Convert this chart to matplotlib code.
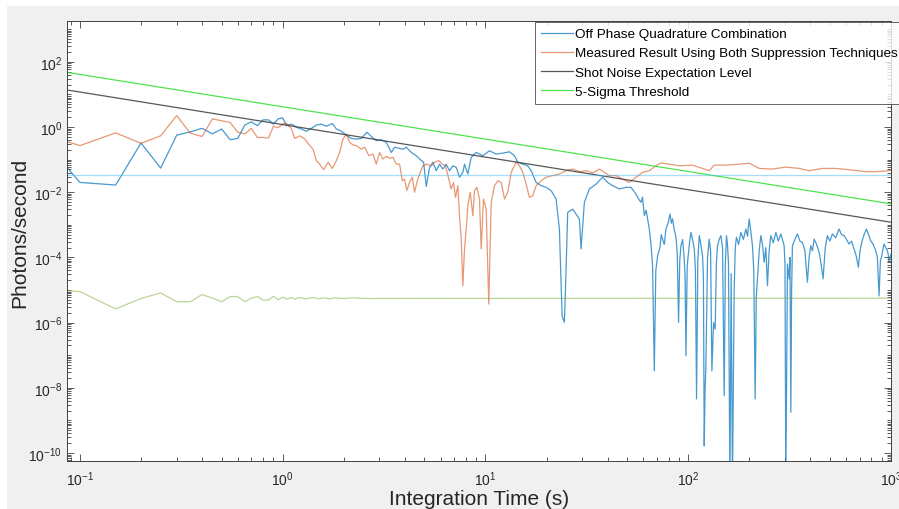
import numpy as np
import matplotlib
matplotlib.use("Agg")
import matplotlib.pyplot as plt
from matplotlib.patches import Rectangle
from matplotlib.ticker import FixedLocator, LogLocator, NullFormatter

plt.rcParams['font.family'] = ['Liberation Sans', 'DejaVu Sans']

# integration time (s) and log10(photons/s)
t_off = [0.0863, 0.1, 0.15, 0.2, 0.25, 0.3, 0.35, 0.4, 0.45, 0.5, 0.55, 0.6, 0.65, 0.7,
         0.75, 0.8, 0.85, 0.9, 0.95, 1.0, 1.043, 1.104, 1.168, 1.236, 1.308, 1.385,
         1.466, 1.551, 1.642, 1.757, 1.839, 1.946, 2.06, 2.18, 2.307, 2.442, 2.602,
         2.735, 2.894, 3.063, 3.242, 3.432, 3.562, 3.741, 3.914, 4.068, 4.305, 4.556,
         4.824, 4.951, 5.105, 5.299, 5.501, 5.716, 5.934, 6.16, 6.402, 6.647, 6.901,
         7.173, 7.446, 7.731, 7.882, 8.182, 8.504, 9.0, 9.698, 10.46, 11.29, 12.17,
         13.13, 13.9, 14.43, 15.27, 16.16, 16.8, 17.78, 18.82, 19.91, 21.07, 22.3,
         23.15, 23.87, 24.5, 24.98, 25.43, 26.92, 27.98, 29.05, 29.61, 30.74, 32.53,
         35.11, 37.83, 40.04, 42.38, 45.72, 49.33, 52.2]
log_off = [-1.24, -1.70, -1.78, -0.49, -1.26, -0.25, -0.15, -0.04, -0.21, -0.06, -0.39,
           -0.35, 0.06, 0.16, 0.04, 0.22, 0.22, 0.09, 0.25, 0.28, 0.04, 0.09, -0.01,
           -0.06, -0.13, -0.04, 0.06, 0.09, 0.02, 0.11, -0.06, -0.13, -0.25, -0.35,
           -0.37, -0.35, -0.16, -0.29, -0.42, -0.39, -0.47, -0.78, -0.62, -0.65, -0.68,
           -0.62, -0.78, -0.88, -1.03, -1.08, -1.82, -1.24, -1.08, -1.34, -1.14, -1.29,
           -1.14, -1.34, -1.19, -1.24, -1.54, -1.39, -1.14, -1.44, -0.93, -0.78, -0.88,
           -0.73, -0.83, -0.80, -0.76, -0.88, -1.08, -1.14, -1.19, -1.34, -1.70, -1.80,
           -1.85, -1.95, -2.21, -3.13, -5.79, -5.99, -4.36, -2.62, -2.52, -2.67, -2.82,
           -3.74, -2.31, -1.90, -1.75, -1.54, -1.70, -1.80, -1.90, -1.85, -1.85]

# noisy tail of the off-phase trace, (time s, log10 photons/s)
off_tail = [
    (55.25, -2.06), (56.8, -2.20), (58.48, -2.31), (59.5, -2.15), (60.71, -2.72),
    (62.0, -2.55), (63.03, -2.82), (64.26, -3.13), (65.5, -3.60), (66.71, -4.26),
    (68.01, -7.48), (69.2, -4.40), (70.61, -3.95), (72.5, -3.70), (73.6, -3.30),
    (74.7, -3.44), (76.2, -3.60), (77.64, -3.13), (79.5, -2.95), (81.26, -2.67),
    (82.5, -2.95), (83.7, -2.82), (85.3, -3.15), (86.98, -3.38), (88.3, -3.90),
    (89.58, -5.99), (90.8, -4.10), (92.05, -3.64), (93.8, -3.45), (95.56, -4.05),
    (96.5, -4.60), (97.43, -7.02), (98.8, -4.30), (100.3, -3.84), (101.7, -3.50),
    (103.1, -3.23), (105.0, -3.45), (107.1, -3.74), (108.5, -4.40), (109.9, -8.34),
    (111.5, -4.10), (113.3, -3.33), (115.4, -3.60), (117.6, -3.95), (118.8, -4.60),
    (119.9, -9.78), (121.0, -8.10), (122.2, -7.32), (124.5, -4.00), (126.9, -3.44),
    (128.9, -3.80), (130.8, -7.48), (133.3, -6.00), (135.8, -6.20), (137.6, -4.20),
    (139.4, -3.64), (142.1, -3.45), (144.9, -3.33), (147.6, -3.70), (150.4, -8.24),
    (152.4, -4.20), (154.4, -3.33), (156.1, -3.60), (157.9, -4.15), (160.5, -11.0),
    (162.8, -4.50), (165.2, -11.0), (168.5, -4.97), (170.6, -3.70), (172.9, -3.38),
    (177.3, -3.60), (181.8, -3.23), (187.0, -3.45), (192.4, -3.13), (196.0, -3.35),
    (199.8, -2.82), (203.5, -3.20), (207.4, -3.64), (210.5, -4.40), (213.8, -8.34),
    (216.6, -5.20), (219.5, -4.66), (223.8, -3.80), (228.1, -3.33), (232.4, -3.60),
    (236.8, -4.15), (241.3, -3.70), (245.9, -4.87), (250.6, -3.80), (255.5, -3.33),
    (262.8, -3.55), (270.4, -3.23), (278.2, -3.50), (286.2, -3.28), (291.6, -3.45),
    (297.1, -3.64), (300.0, -4.20), (302.9, -11.0), (308.6, -4.20), (314.5, -4.66),
    (317.5, -4.00), (320.6, -8.75), (323.5, -5.00), (326.5, -3.64), (335.8, -3.45),
    (345.5, -3.28), (355.4, -3.50), (365.6, -3.54), (376.2, -3.80), (387.0, -4.76),
    (394.5, -4.00), (402.2, -3.64), (409.8, -3.80), (417.6, -3.44), (429.6, -3.60),
    (441.9, -3.84), (452.0, -4.20), (462.4, -4.66), (474.0, -3.70), (485.6, -3.33),
    (499.6, -3.50), (513.9, -3.28), (533.8, -3.40), (554.4, -3.13), (570.4, -3.30),
    (586.8, -3.33), (603.7, -3.45), (621.1, -3.59), (639.0, -3.50), (657.3, -3.74),
    (673.5, -3.95), (690.2, -4.30), (703.6, -3.80), (717.4, -3.54), (736.4, -3.30),
    (755.8, -3.13), (775.0, -3.30), (794.3, -3.49), (817.0, -3.60), (840.6, -3.79),
    (856.7, -4.00), (873.2, -5.18), (886.7, -4.10), (900.4, -3.95), (912.2, -3.75),
    (924.1, -3.59), (941.6, -3.70), (959.3, -3.79), (968.2, -3.90), (977.3, -4.10),
    (1000, -3.90)]

t_meas = [0.0863, 0.1, 0.15, 0.2, 0.25, 0.3, 0.35, 0.4, 0.45, 0.5, 0.55, 0.6, 0.65, 0.7,
          0.75, 0.8, 0.85, 0.9, 0.95, 1.0, 1.043, 1.104, 1.146, 1.213, 1.284, 1.359,
          1.41, 1.466, 1.521, 1.592, 1.672, 1.757, 1.839, 1.909, 1.982, 2.06, 2.138,
          2.22, 2.307, 2.442, 2.535, 2.662, 2.786, 2.894, 3.005, 3.119, 3.242, 3.366,
          3.494, 3.632, 3.771, 3.888, 3.99, 4.096, 4.223, 4.354, 4.469, 4.587, 4.73,
          4.91, 5.137, 5.4, 5.608, 5.888, 6.12, 6.353, 6.595, 6.776, 6.955, 7.115,
          7.303, 7.446, 7.59, 7.731, 7.882, 8.035, 8.182, 8.409, 8.66, 8.83, 9.06,
          9.342, 9.524, 9.775, 10.08, 10.38, 10.67, 11.07, 11.5, 11.95, 12.41, 12.88,
          13.39, 14.17, 14.71, 15.27, 15.87, 16.47, 17.1, 17.78, 18.82, 19.91, 21.46,
          23.15, 24.98, 26.92, 29.05, 31.34, 33.79, 36.45, 38.58, 40.82, 44.04, 47.47,
          51.21, 55.25, 59.56, 64.26, 69.33, 73.38, 80.63, 90.3, 105.0, 117.6, 126.9,
          134.3, 153.4, 178.4, 199.8, 223.8, 260.2, 302.9, 352.3, 394.6, 458.8, 534.1,
          621.1, 750.7, 840.6, 977.3, 1000]
log_meas = [-0.45, -0.57, -0.18, -0.50, -0.27, 0.35, -0.19, -0.29, 0.25, 0.19, 0.14,
            -0.16, -0.21, -0.04, -0.32, -0.32, -0.34, 0.02, -0.02, 0.09, 0.12, -0.06,
            -0.35, -0.27, -0.37, -0.57, -0.68, -1.03, -1.14, -1.31, -1.08, -1.27, -1.03,
            -0.78, -0.37, -0.22, -0.47, -0.55, -0.57, -0.68, -0.62, -0.88, -0.83, -1.14,
            -0.78, -0.98, -0.90, -0.96, -0.93, -1.14, -1.14, -1.65, -1.60, -1.95, -1.70,
            -1.54, -2.00, -1.70, -1.44, -1.19, -1.14, -1.19, -1.08, -1.03, -1.14, -1.19,
            -1.60, -1.90, -1.70, -2.16, -1.80, -2.72, -3.44, -4.87, -3.74, -3.13, -2.41,
            -2.00, -2.72, -1.95, -1.85, -2.21, -3.74, -2.21, -2.52, -5.43, -2.31, -1.80,
            -1.65, -1.70, -2.21, -2.00, -1.39, -1.08, -1.19, -1.39, -1.75, -2.16, -2.11,
            -1.80, -1.65, -1.54, -1.49, -1.44, -1.34, -1.29, -1.37, -1.34, -1.41, -1.29,
            -1.39, -1.49, -1.49, -1.60, -1.70, -1.54, -1.39, -1.34, -1.19, -1.10, -1.14,
            -1.19, -1.17, -1.27, -1.34, -1.17, -1.17, -1.14, -1.11, -1.27, -1.29, -1.23,
            -1.27, -1.34, -1.27, -1.27, -1.31, -1.37, -1.37, -1.34, -1.33]

t_floor = [0.0863, 0.1, 0.15, 0.2, 0.25, 0.3, 0.35, 0.4, 0.45, 0.5, 0.55, 0.6, 0.65, 0.7,
           0.75, 0.8, 0.85, 0.9, 0.95, 1.0, 1.05, 1.1, 1.15, 1.2, 1.3, 1.4, 1.5, 1.6,
           1.7, 1.8, 2.0, 2.2, 2.5, 1000]
log_floor = [-5.02, -5.05, -5.58, -5.26, -5.09, -5.36, -5.36, -5.14, -5.25, -5.36, -5.20,
             -5.20, -5.36, -5.25, -5.20, -5.31, -5.31, -5.19, -5.30, -5.22, -5.28, -5.23,
             -5.28, -5.23, -5.27, -5.23, -5.27, -5.24, -5.27, -5.24, -5.26, -5.24, -5.26,
             -5.25]

t_ends = [0.0863, 1000]
shot_noise = [13.7, 1.2e-3]
five_sigma = [47.5, 4.4e-3]
mean_level = [0.034, 0.034]

labels = ['Off Phase Quadrature Combination',
          'Measured Result Using Both Suppression Techniques',
          'Shot Noise Expectation Level',
          '5-Sigma Threshold']

t_off_all = t_off + [p[0] for p in off_tail]
log_off_all = log_off + [p[1] for p in off_tail]

W, H = 899, 510
fig = plt.figure(figsize=(W / 100, H / 100), dpi=100, facecolor='white')
fig.add_artist(Rectangle((7 / W, 0), 1, (H - 7) / H, transform=fig.transFigure,
                         facecolor='#f0f0f0', edgecolor='none', zorder=-10))
ax = fig.add_axes([67 / W, (H - 462) / H, (891 - 67) / W, (462 - 22) / H])

l1, = ax.plot(t_off_all, 10.0 ** np.array(log_off_all), color='#0072BD', alpha=0.72, lw=0.9)
l2, = ax.plot(t_meas, 10.0 ** np.array(log_meas), color='#D95319', alpha=0.6, lw=0.9)
l3, = ax.plot(t_ends, shot_noise, color='#3a3a3a', alpha=0.85, lw=0.9)
l4, = ax.plot(t_ends, five_sigma, color='#22dd22', alpha=0.8, lw=0.9)
ax.plot(t_floor, 10.0 ** np.array(log_floor), color='#77AC30', alpha=0.5, lw=0.9)
ax.plot(t_ends, mean_level, color='#4DBEEE', alpha=0.5, lw=0.9)

ax.set_xscale('log')
ax.set_yscale('log')
ax.set_xlim(0.0863, 1000)
ax.set_ylim(10 ** -10.245, 10 ** 3.252)
ax.xaxis.set_major_locator(FixedLocator(10.0 ** np.arange(-1, 4)))
ax.yaxis.set_major_locator(FixedLocator(10.0 ** np.arange(-10, 3, 2)))
ax.xaxis.set_minor_locator(LogLocator(base=10, subs=np.arange(2, 10), numticks=50))
ax.yaxis.set_minor_locator(LogLocator(base=10, subs=np.arange(1, 10), numticks=50))
ax.xaxis.set_minor_formatter(NullFormatter())
ax.yaxis.set_minor_formatter(NullFormatter())

ax.tick_params(which='both', direction='in', top=True, right=True,
               color='#404040', labelcolor='#262626', labelsize=10, width=0.6)
ax.tick_params(which='major', length=5)
ax.tick_params(which='minor', length=3)
ax.tick_params(axis='x', pad=6)
for s in ax.spines.values():
    s.set_color('#404040')
    s.set_linewidth(0.7)

ax.set_xlabel('Integration Time (s)', fontsize=15, color='#262626')
ax.set_ylabel('Photons/second', fontsize=15, color='#262626')
ax.xaxis.label.set_va('center')
ax.xaxis.set_label_coords(0.5, -0.086)
ax.yaxis.label.set_va('center')
ax.yaxis.set_label_coords(-0.057, 0.52)

leg = ax.legend([l1, l2, l3, l4], labels, loc='upper left',
                bbox_to_anchor=(535 / W, 1 - 23 / H), bbox_transform=fig.transFigure,
                borderaxespad=0, fontsize=9.7, frameon=True, fancybox=False,
                handlelength=2.4, handletextpad=0.15, labelspacing=0.5, borderpad=0.43)
leg.get_frame().set_edgecolor('#404040')
leg.get_frame().set_linewidth(0.7)

fig.savefig('out.png', dpi=100, facecolor=fig.get_facecolor())
